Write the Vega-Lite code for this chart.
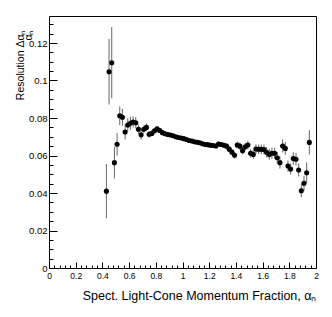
{
  "$schema": "https://vega.github.io/schema/vega-lite/v6.json",
  "width": 267,
  "height": 252,
  "autosize": "none",
  "padding": {"left": 49, "top": 16, "right": 16, "bottom": 49},
  "background": "white",
  "config": {
    "font": "Liberation Sans",
    "view": {"stroke": "black", "strokeWidth": 1},
    "axis": {
      "grid": false,
      "domain": false,
      "tickColor": "black",
      "tickWidth": 1,
      "labelColor": "black",
      "titleColor": "black",
      "labelFont": "Liberation Sans",
      "titleFont": "Liberation Sans",
      "titleFontWeight": "normal",
      "labelOverlap": false,
      "labelFlush": false
    }
  },
  "data": {
    "values": [
      {"a": 0.43, "r": 0.0410, "e": 0.0145},
      {"a": 0.45, "r": 0.1047, "e": 0.0175},
      {"a": 0.47, "r": 0.1095, "e": 0.0190},
      {"a": 0.49, "r": 0.0562, "e": 0.0085},
      {"a": 0.51, "r": 0.0660, "e": 0.0060},
      {"a": 0.53, "r": 0.0812, "e": 0.0050},
      {"a": 0.55, "r": 0.0804, "e": 0.0045},
      {"a": 0.57, "r": 0.0725, "e": 0.0040},
      {"a": 0.59, "r": 0.0763, "e": 0.0035},
      {"a": 0.61, "r": 0.0772, "e": 0.0035},
      {"a": 0.63, "r": 0.0779, "e": 0.0030},
      {"a": 0.65, "r": 0.0775, "e": 0.0030},
      {"a": 0.67, "r": 0.0740, "e": 0.0025},
      {"a": 0.69, "r": 0.0711, "e": 0.0025},
      {"a": 0.71, "r": 0.0740, "e": 0.0020},
      {"a": 0.73, "r": 0.0750, "e": 0.0020},
      {"a": 0.75, "r": 0.0713, "e": 0.0018},
      {"a": 0.77, "r": 0.0718, "e": 0.0016},
      {"a": 0.79, "r": 0.0732, "e": 0.0015},
      {"a": 0.81, "r": 0.0742, "e": 0.0014},
      {"a": 0.83, "r": 0.0733, "e": 0.0013},
      {"a": 0.85, "r": 0.0722, "e": 0.0012},
      {"a": 0.87, "r": 0.0716, "e": 0.0012},
      {"a": 0.89, "r": 0.0712, "e": 0.0011},
      {"a": 0.91, "r": 0.0709, "e": 0.0011},
      {"a": 0.93, "r": 0.0705, "e": 0.0010},
      {"a": 0.95, "r": 0.0700, "e": 0.0010},
      {"a": 0.97, "r": 0.0696, "e": 0.0010},
      {"a": 0.99, "r": 0.0693, "e": 0.0010},
      {"a": 1.01, "r": 0.0690, "e": 0.0010},
      {"a": 1.03, "r": 0.0685, "e": 0.0010},
      {"a": 1.05, "r": 0.0680, "e": 0.0010},
      {"a": 1.07, "r": 0.0677, "e": 0.0010},
      {"a": 1.09, "r": 0.0673, "e": 0.0010},
      {"a": 1.11, "r": 0.0671, "e": 0.0010},
      {"a": 1.13, "r": 0.0668, "e": 0.0010},
      {"a": 1.15, "r": 0.0663, "e": 0.0011},
      {"a": 1.17, "r": 0.0659, "e": 0.0011},
      {"a": 1.19, "r": 0.0658, "e": 0.0011},
      {"a": 1.21, "r": 0.0655, "e": 0.0012},
      {"a": 1.23, "r": 0.0653, "e": 0.0012},
      {"a": 1.25, "r": 0.0651, "e": 0.0012},
      {"a": 1.27, "r": 0.0661, "e": 0.0013},
      {"a": 1.29, "r": 0.0659, "e": 0.0013},
      {"a": 1.31, "r": 0.0655, "e": 0.0014},
      {"a": 1.33, "r": 0.0650, "e": 0.0014},
      {"a": 1.35, "r": 0.0634, "e": 0.0015},
      {"a": 1.37, "r": 0.0618, "e": 0.0016},
      {"a": 1.39, "r": 0.0601, "e": 0.0017},
      {"a": 1.41, "r": 0.0656, "e": 0.0018},
      {"a": 1.43, "r": 0.0650, "e": 0.0019},
      {"a": 1.45, "r": 0.0626, "e": 0.0020},
      {"a": 1.47, "r": 0.0647, "e": 0.0021},
      {"a": 1.49, "r": 0.0656, "e": 0.0022},
      {"a": 1.51, "r": 0.0612, "e": 0.0023},
      {"a": 1.53, "r": 0.0606, "e": 0.0024},
      {"a": 1.55, "r": 0.0635, "e": 0.0025},
      {"a": 1.57, "r": 0.0633, "e": 0.0025},
      {"a": 1.59, "r": 0.0633, "e": 0.0026},
      {"a": 1.61, "r": 0.0632, "e": 0.0027},
      {"a": 1.63, "r": 0.0617, "e": 0.0028},
      {"a": 1.65, "r": 0.0606, "e": 0.0029},
      {"a": 1.67, "r": 0.0612, "e": 0.0030},
      {"a": 1.69, "r": 0.0612, "e": 0.0030},
      {"a": 1.71, "r": 0.0588, "e": 0.0031},
      {"a": 1.73, "r": 0.0562, "e": 0.0032},
      {"a": 1.75, "r": 0.0651, "e": 0.0035},
      {"a": 1.77, "r": 0.0638, "e": 0.0034},
      {"a": 1.79, "r": 0.0544, "e": 0.0030},
      {"a": 1.81, "r": 0.0528, "e": 0.0030},
      {"a": 1.83, "r": 0.0584, "e": 0.0034},
      {"a": 1.85, "r": 0.0580, "e": 0.0034},
      {"a": 1.87, "r": 0.0523, "e": 0.0035},
      {"a": 1.89, "r": 0.0412, "e": 0.0035},
      {"a": 1.91, "r": 0.0452, "e": 0.0040},
      {"a": 1.93, "r": 0.0508, "e": 0.0055},
      {"a": 1.95, "r": 0.0670, "e": 0.0065}
    ]
  },
  "encoding": {
    "x": {
      "field": "a",
      "type": "quantitative",
      "scale": {"domain": [0, 2], "nice": false, "zero": false},
      "axis": {
        "title": "Spect. Light-Cone Momentum Fraction, αₙ",
        "titleFontSize": 12.5,
        "titleAnchor": "end",
        "titleAlign": "right",
        "titleBaseline": "alphabetic",
        "titleY": 31,
        "values": [0,0.04,0.08,0.12,0.16,0.2,0.24,0.28,0.32,0.36,0.4,0.44,0.48,0.52,0.56,0.6,0.64,0.68,0.72,0.76,0.8,0.84,0.88,0.92,0.96,1,1.04,1.08,1.12,1.16,1.2,1.24,1.28,1.32,1.36,1.4,1.44,1.48,1.52,1.56,1.6,1.64,1.68,1.72,1.76,1.8,1.84,1.88,1.92,1.96,2],
        "labelExpr": "abs(datum.value*5 - round(datum.value*5)) < 0.001 ? format(datum.value, '.1~f') : ''",
        "tickSize": {"condition": {"test": "abs(datum.value*5 - round(datum.value*5)) < 0.001", "value": -6}, "value": -3},
        "labelFontSize": 8.5,
        "labelPadding": 9
      }
    },
    "y": {
      "field": "r",
      "type": "quantitative",
      "scale": {"domain": [0, 0.1344], "nice": false, "zero": false},
      "axis": {
        "title": ["Resolution  Δαₙ", "αₙ"],
        "titleFontSize": 10.5,
        "titleLineHeight": 8,
        "titleAnchor": "end",
        "titleAlign": "right",
        "titleAngle": -90,
        "titleBaseline": "alphabetic",
        "titleX": -26,
        "titleY": 14,
        "values": [0,0.005,0.01,0.015,0.02,0.025,0.03,0.035,0.04,0.045,0.05,0.055,0.06,0.065,0.07,0.075,0.08,0.085,0.09,0.095,0.1,0.105,0.11,0.115,0.12,0.125,0.13],
        "labelExpr": "abs(datum.value*50 - round(datum.value*50)) < 0.001 ? format(datum.value, '.2~f') : ''",
        "tickSize": {"condition": {"test": "abs(datum.value*50 - round(datum.value*50)) < 0.001", "value": -8}, "value": -4},
        "labelFontSize": 9.5,
        "labelPadding": 10
      }
    }
  },
  "layer": [
    {
      "mark": {"type": "errorbar", "color": "#666666", "thickness": 1},
      "encoding": {"yError": {"field": "e"}}
    },
    {
      "mark": {"type": "point", "filled": true, "color": "black", "size": 26, "opacity": 1}
    }
  ]
}
